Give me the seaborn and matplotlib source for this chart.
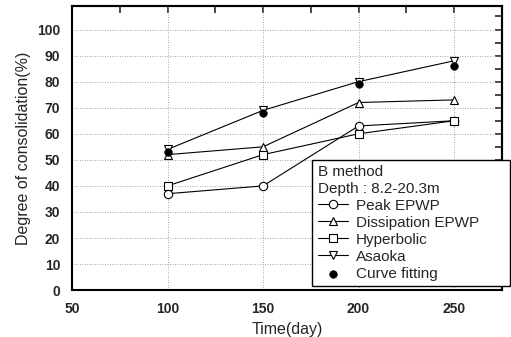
import matplotlib
matplotlib.use("Agg")
import matplotlib.pyplot as plt
from matplotlib.ticker import MultipleLocator
import seaborn as sns
import pandas as pd

days = [100, 150, 200, 250]
peak_epwp = [37, 40, 63, 65]
dissipation_epwp = [52, 55, 72, 73]
hyperbolic = [40, 52, 60, 65]
asaoka = [54, 69, 80, 88]
curve_fitting = [53, 68, 79, 86]

series = {
    "Peak EPWP": (peak_epwp, "o"),
    "Dissipation EPWP": (dissipation_epwp, "^"),
    "Hyperbolic": (hyperbolic, "s"),
    "Asaoka": (asaoka, "v"),
}

sns.set_style("white")
plt.rcParams["font.family"] = ["Liberation Sans", "DejaVu Sans"]

fig = plt.figure(figsize=(5.11, 3.37), dpi=100)
ax = fig.add_axes([0.141, 0.139, 0.841, 0.843])

for name, (vals, mk) in series.items():
    df = pd.DataFrame({"day": days, "val": vals})
    sns.lineplot(data=df, x="day", y="val", ax=ax, color="black", lw=0.8,
                 marker=mk, markersize=6, markerfacecolor="white",
                 markeredgecolor="black", markeredgewidth=0.8, label=name)

dfc = pd.DataFrame({"day": days, "val": curve_fitting})
sns.scatterplot(data=dfc, x="day", y="val", ax=ax, color="black", s=30,
                edgecolor="black", label="Curve fitting", zorder=5)

ax.set_xlim(50, 275)
ax.set_ylim(0, 109)
ax.xaxis.set_major_locator(MultipleLocator(50))
ax.xaxis.set_minor_locator(MultipleLocator(25))
ax.yaxis.set_major_locator(MultipleLocator(10))
ax.yaxis.set_minor_locator(MultipleLocator(5))
ax.set_yticks(range(0, 101, 10))
ax.tick_params(axis="both", which="both", direction="out", labelsize=10, width=1.2)
ax.tick_params(axis="both", which="major", length=5)
ax.tick_params(axis="both", which="minor", length=3)
for lab in ax.get_xticklabels() + ax.get_yticklabels():
    lab.set_fontweight("bold")
ax.grid(True, which="major", linestyle=(0, (1, 2)), color="#888888", lw=0.6)
for s in ax.spines.values():
    s.set_linewidth(1.5)
    s.set_color("black")

top = ax.secondary_xaxis("top")
top.xaxis.set_major_locator(MultipleLocator(25))
top.tick_params(direction="in", length=5, width=1.2, labeltop=False)
right = ax.secondary_yaxis("right")
right.yaxis.set_major_locator(MultipleLocator(5))
right.tick_params(direction="in", length=5, width=1.2, labelright=False)
for sa in (top, right):
    for s in sa.spines.values():
        s.set_linewidth(1.5)

ax.set_xlabel("Time(day)", fontsize=11.5)
ax.set_ylabel("Degree of consolidation(%)", fontsize=11.5)

leg = ax.legend(title="B method\nDepth : 8.2-20.3m", loc="upper left",
                bbox_to_anchor=(0.611, 0.16, 0.387, 0.365),
                bbox_transform=fig.transFigure, mode="expand", borderaxespad=0,
                fontsize=11, title_fontsize=11, frameon=True, fancybox=False,
                edgecolor="black", framealpha=1, handlelength=2.0,
                labelspacing=0.2, borderpad=0.35, handletextpad=0.5,
                alignment="left")
leg.get_frame().set_linewidth(1.0)
leg.set_zorder(10)

fig.savefig("out.png", dpi=100)
